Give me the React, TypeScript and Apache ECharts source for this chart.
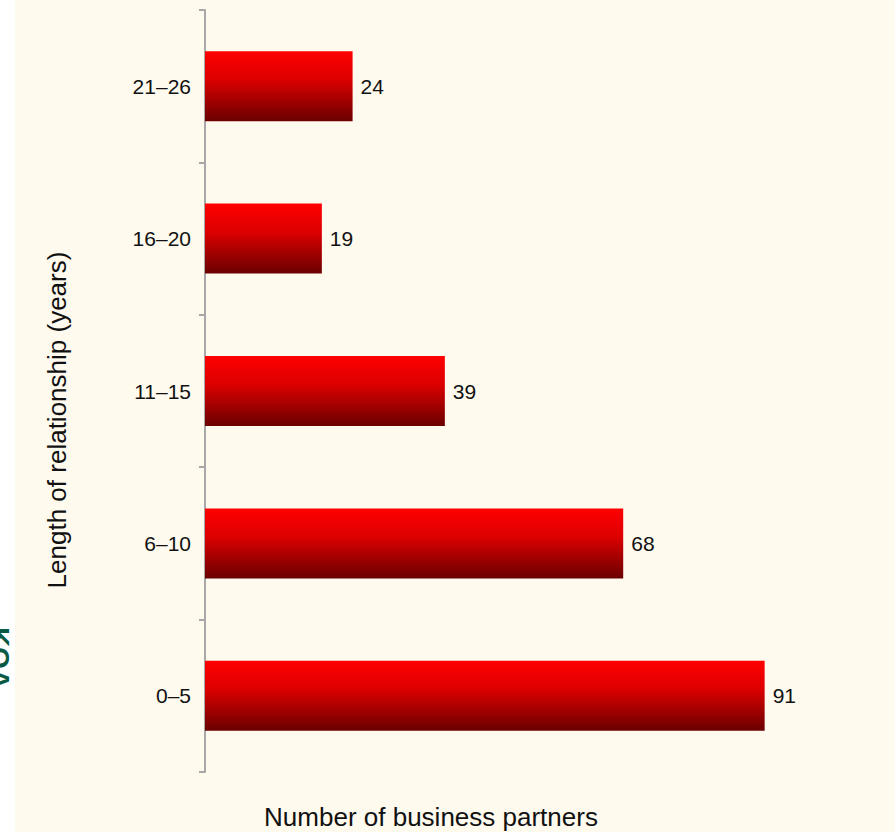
import React, { useEffect, useRef } from "react";
import * as echarts from "echarts";

const categories = ["0–5", "6–10", "11–15", "16–20", "21–26"];
const partners = [91, 68, 39, 19, 24];
const xTitle = "Number of business partners";
const yTitle = "Length of relationship (years)";

export default function App() {
  const ref = useRef<HTMLDivElement>(null);
  useEffect(() => {
    document.body.style.margin = "0";
    const chart = echarts.init(ref.current!, null, { renderer: "svg" });
    const font = "'Liberation Sans', Arial, Helvetica, sans-serif";
    chart.setOption({
      animation: false,
      backgroundColor: "#ffffff",
      graphic: [
        {
          type: "rect",
          shape: { x: 15, y: 0, width: 880, height: 832 },
          style: { fill: "#fffaee" },
          z: -10,
          silent: true,
        },
        {
          type: "text",
          x: -15,
          y: 658,
          rotation: -Math.PI / 2,
          style: {
            text: "KOA",
            font: `bold 28px ${font}`,
            fill: "#0b5a43",
            align: "center",
            verticalAlign: "bottom",
          },
        },
        {
          type: "text",
          x: 431,
          y: 817,
          style: {
            text: xTitle,
            font: `26px ${font}`,
            fill: "#111",
            align: "center",
            verticalAlign: "middle",
          },
        },
        {
          type: "text",
          x: 57,
          y: 420,
          rotation: Math.PI / 2,
          style: {
            text: yTitle,
            font: `26px ${font}`,
            fill: "#111",
            align: "center",
            verticalAlign: "middle",
          },
        },
      ],
      grid: { left: 205, top: 10, height: 762, width: 615, containLabel: false },
      xAxis: {
        type: "value",
        min: 0,
        max: 100,
        show: true,
        axisLine: { show: false },
        axisTick: { show: false },
        axisLabel: { show: false },
        splitLine: { show: false },
      },
      yAxis: {
        type: "category",
        data: categories,
        boundaryGap: true,
        axisLine: { show: true, lineStyle: { color: "#a8a8a8", width: 2 } },
        axisTick: { show: true, length: 6, lineStyle: { color: "#a8a8a8", width: 2 } },
        axisLabel: { fontFamily: font, fontSize: 21, color: "#111", margin: 14 },
      },
      series: [
        {
          type: "bar",
          data: partners,
          barWidth: 70,
          itemStyle: {
            color: new echarts.graphic.LinearGradient(0, 0, 0, 1, [
              { offset: 0, color: "#ff0000" },
              { offset: 0.4, color: "#dd0000" },
              { offset: 1, color: "#6a0000" },
            ]),
          },
          label: {
            show: true,
            position: "right",
            distance: 8,
            fontFamily: font,
            fontSize: 21,
            color: "#111",
          },
        },
      ],
    });
    return () => chart.dispose();
  }, []);
  return <div ref={ref} style={{ width: 895, height: 832 }} />;
}
